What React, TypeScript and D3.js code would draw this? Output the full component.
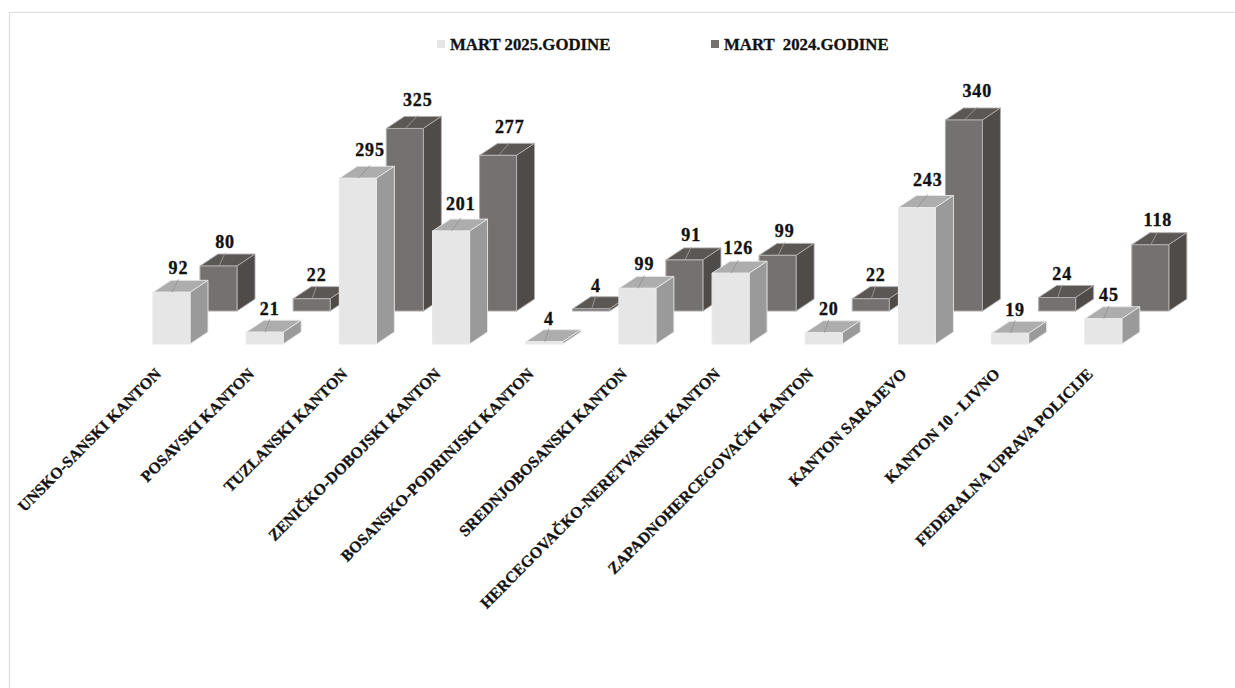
import React from "react";
import * as d3 from "d3";

const categories = ["UNSKO-SANSKI KANTON","POSAVSKI KANTON","TUZLANSKI KANTON","ZENIČKO-DOBOJSKI KANTON","BOSANSKO-PODRINJSKI KANTON","SREDNJOBOSANSKI KANTON","HERCEGOVAČKO-NERETVANSKI KANTON","ZAPADNOHERCEGOVAČKI KANTON","KANTON SARAJEVO","KANTON 10 - LIVNO","FEDERALNA UPRAVA POLICIJE"];
const mart2025 = [92,21,295,201,4,99,126,20,243,19,45];
const mart2024 = [80,22,325,277,4,91,99,22,340,24,118];
const legendLabels = ["MART 2025.GODINE","MART  2024.GODINE"];

const W = 1235, H = 688;
const FONT = "'Liberation Serif', serif";
const x = d3.scaleBand<string>().domain(categories).range([125, 1150]).paddingInner(0).paddingOuter(0);
const h = d3.scaleLinear().domain([0, 340]).range([0, 191]);
const barW = 37, dx = 18, dy = -12;

const palettes = [
  { front: "#e7e6e6", top: "#adadad", side: "#9a9a9a", edge: "#e9e9e9", line: "#8f8f8f" },
  { front: "#767171", top: "#5b5755", side: "#4f4b49", edge: "#afacac", line: "#a5a2a2" },
];

function Box({ x0, base, height, p }: any) {
  const t = base - height;
  const poly = (pts: number[][]) => d3.line()(pts as any) + "Z";
  return (
    <g strokeLinejoin="round">
      <path d={poly([[x0, t],[x0 + dx, t + dy],[x0 + barW + dx, t + dy],[x0 + barW, t]])} fill={p.top} stroke={p.edge} strokeWidth={0.9} />
      <path d={poly([[x0 + barW, t],[x0 + barW + dx, t + dy],[x0 + barW + dx, base + dy],[x0 + barW, base]])} fill={p.side} stroke={p.edge} strokeWidth={0.9} />
      <rect x={x0} y={t} width={barW} height={height} fill={p.front} stroke={p.edge} strokeWidth={1.1} />
    </g>
  );
}

function Series({ values, name, offX, base, p }: any) {
  return (
    <g data-series={name}>
      {values.map((v: number, i: number) => (
        <Box key={i} x0={(x(categories[i]) as number) + offX} base={base} height={h(v)} p={p} />
      ))}
    </g>
  );
}

function Labels({ values, offX, base, p }: any) {
  return (
    <g>
      {values.map((v: number, i: number) => {
        const x0 = (x(categories[i]) as number) + offX;
        const t = base - h(v);
        const lx = x0 + 23 + v * 0.026;
        return (
          <g key={i}>
            <line x1={x0 + 19} y1={t} x2={lx} y2={t + dy - 1} stroke={p.line} strokeWidth={0.8} />
            <text x={lx} y={t + dy - 5 - v * 0.018} textAnchor="middle" fontFamily={FONT} fontWeight={700} fontSize={18} letterSpacing={0.9} stroke="#111" strokeWidth={0.35} fill="#111">{v}</text>
          </g>
        );
      })}
    </g>
  );
}

export default function App() {
  return (
    <svg width={W} height={H} style={{ position: "fixed", left: 0, top: 0, background: "#fff" }}>
      <path d={`M9.5 ${H}V12.5H${W}`} fill="none" stroke="#dcdcdc" strokeWidth={1.2} />
      <g fontFamily={FONT} fontWeight={700} fontSize={16.8} fill="#111" stroke="#111" strokeWidth={0.3}>
        <rect x={437} y={40} width={8} height={8} fill={palettes[0].front} stroke="none" />
        <text x={450} y={50} style={{ whiteSpace: "pre" }}>{legendLabels[0]}</text>
        <rect x={711} y={40} width={8} height={8} fill={palettes[1].front} stroke="none" />
        <text x={724} y={50} style={{ whiteSpace: "pre" }}>{legendLabels[1]}</text>
      </g>
      <Series values={mart2024} name="2024" offX={47 + 28} base={311} p={palettes[1]} />
      <Series values={mart2025} name="2025" offX={28} base={344} p={palettes[0]} />
      <Labels values={mart2024} offX={47 + 28} base={311} p={palettes[1]} />
      <Labels values={mart2025} offX={28} base={344} p={palettes[0]} />
      {categories.map((c) => (
        <text key={c} transform={`translate(${(x(c) as number) + 37},${375}) rotate(-45)`} textAnchor="end" fontFamily={FONT} fontWeight={700} fontSize={15.9} stroke="#111" strokeWidth={0.3} fill="#111">{c}</text>
      ))}
    </svg>
  );
}
